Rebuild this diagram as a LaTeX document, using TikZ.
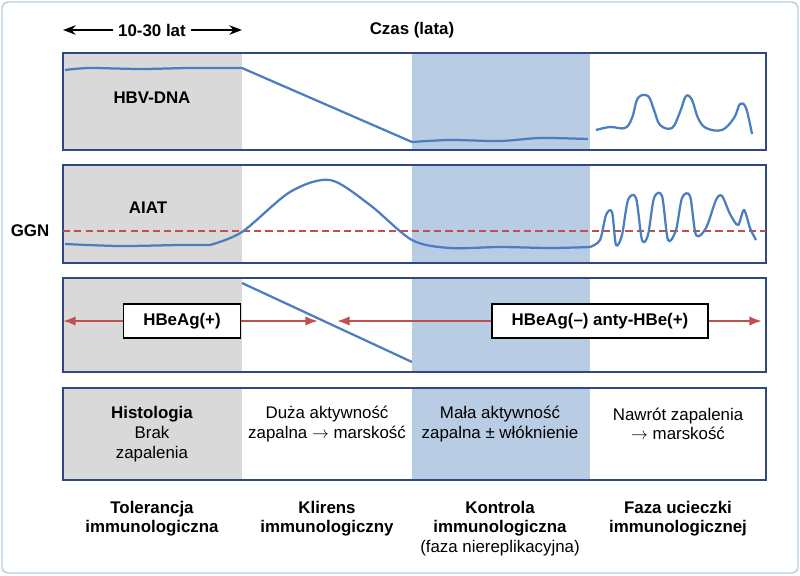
\documentclass[tikz,border=0pt]{standalone}
\usepackage{fontspec}
\setmainfont{Liberation Sans}
\usetikzlibrary{arrows.meta}
\definecolor{frameblue}{RGB}{47,72,128}
\definecolor{curveblue}{RGB}{74,126,193}
\definecolor{phaseblue}{RGB}{184,204,228}
\definecolor{phasegray}{RGB}{217,217,217}
\definecolor{hbered}{RGB}{192,80,77}
\tikzset{
  panel/.style={draw=frameblue,line width=1.5pt},
  curve/.style={draw=curveblue,line width=1.6pt,line join=round},
  hbe/.style={draw=hbered,line width=1.6pt,{Latex[length=9pt]}-{Latex[length=9pt]}},
  tag/.style={draw,line width=1pt,fill=white,font=\bfseries\large,inner xsep=14pt,minimum height=0.85cm},
  phase/.style={font=\bfseries\large,align=center,anchor=north},
}
\begin{document}
\begin{tikzpicture}[x=0.025cm,y=-0.025cm]
\useasboundingbox (0,0) rectangle (800,575);
\draw[draw=phaseblue,line width=1pt,rounded corners=4pt] (2,2) rectangle (798,573);
% shaded phases
\fill[phasegray] (63,53) rectangle (242,480);
\fill[phaseblue] (412,53) rectangle (590,480);
\fill[white] (63,150) rectangle (766,165);
\fill[white] (63,263) rectangle (766,278);
\fill[white] (63,372) rectangle (766,388);
% time axis
\node[font=\bfseries\large] (span) at (152,30) {10-30 lat};
\coordinate (spanL) at (63,30);
\coordinate (spanR) at (242,30);
\draw[-{Stealth[length=9pt]},line width=1.2pt] (span.west) -- (spanL);
\draw[-{Stealth[length=9pt]},line width=1.2pt] (span.east) -- (spanR);
\node[font=\bfseries\large] (czas) at (412,30) {Czas (lata)};
% panels
\draw[panel] (63,53) rectangle (766,150);
\draw[panel] (63,165) rectangle (766,263);
\draw[panel] (63,278) rectangle (766,372);
\draw[panel] (63,388) rectangle (766,480);
% HBV-DNA
\node[font=\bfseries\large] (dna) at (152,98) {HBV-DNA};
\draw[curve] plot[smooth] coordinates {(65,70) (90,68) (140,69) (190,68) (242,68)}
  -- (412,142)
  plot[smooth] coordinates {(412,142) (450,140) (500,141) (540,138) (588,139)};
\draw[curve] plot[smooth,tension=0.6] coordinates {(596,130) (610,127) (625,128) (632,118) (638,98) (648,96) (654,110) (660,125) (672,128) (680,112) (686,96) (692,100) (698,118) (706,128) (722,130) (734,118) (740,104) (746,108) (752,134)};
% AIAT
\node[font=\bfseries\large] (aiat) at (148,208) {AIAT};
\node[font=\bfseries\large] (ggn) at (30,231) {GGN};
\draw[hbered,line width=1.5pt,dash pattern=on 5pt off 3pt] (63,231) -- (766,231);
\draw[curve] plot[smooth] coordinates {(65,244) (120,246) (180,245) (210,245)}
  plot[smooth] coordinates {(210,245) (242,232) (290,192) (330,180) (370,205) (412,240) (450,248) (500,247) (550,248) (590,247)};
\draw[curve] plot[smooth,tension=0.5] coordinates {(590,247) (600,240) (606,215) (612,212) (616,245) (622,235) (628,200) (636,198) (642,240) (648,235) (654,198) (662,196) (668,240) (676,230) (682,198) (690,196) (696,235) (706,228) (716,200) (722,196) (730,214) (738,225) (744,210) (750,228) (756,240)};
% HBeAg
\draw[curve] (242,283) -- (412,362);
\coordinate (e1L) at (63,321);
\coordinate (e1R) at (318,321);
\coordinate (e2L) at (337,321);
\coordinate (e2R) at (762,321);
\draw[hbe] (e1L) -- (e1R);
\draw[hbe] (e2L) -- (e2R);
\node[tag] (pos) at (182,321) {HBeAg(+)};
\node[tag] (neg) at (600,321) {HBeAg(–) anty-HBe(+)};
% histology
\node[align=center,font=\large] (hist1) at (152,434) {\textbf{Histologia}\\Brak\\zapalenia};
\node[align=center,font=\large] (hist2) at (327,424) {Duża aktywność\\zapalna $\rightarrow$ marskość};
\node[align=center,font=\large] (hist3) at (500,424) {Mała aktywność\\zapalna ± włóknienie};
\node[align=center,font=\large] (hist4) at (678,424) {Nawrót zapalenia\\$\rightarrow$ marskość};
% phases
\node[phase] (ph1) at (152,496) {Tolerancja\\immunologiczna};
\node[phase] (ph2) at (327,496) {Klirens\\immunologiczny};
\node[phase] (ph3) at (500,496) {Kontrola\\immunologiczna\\\mdseries(faza niereplikacyjna)};
\node[phase] (ph4) at (678,496) {Faza ucieczki\\immunologicznej};
\end{tikzpicture}
\end{document}
